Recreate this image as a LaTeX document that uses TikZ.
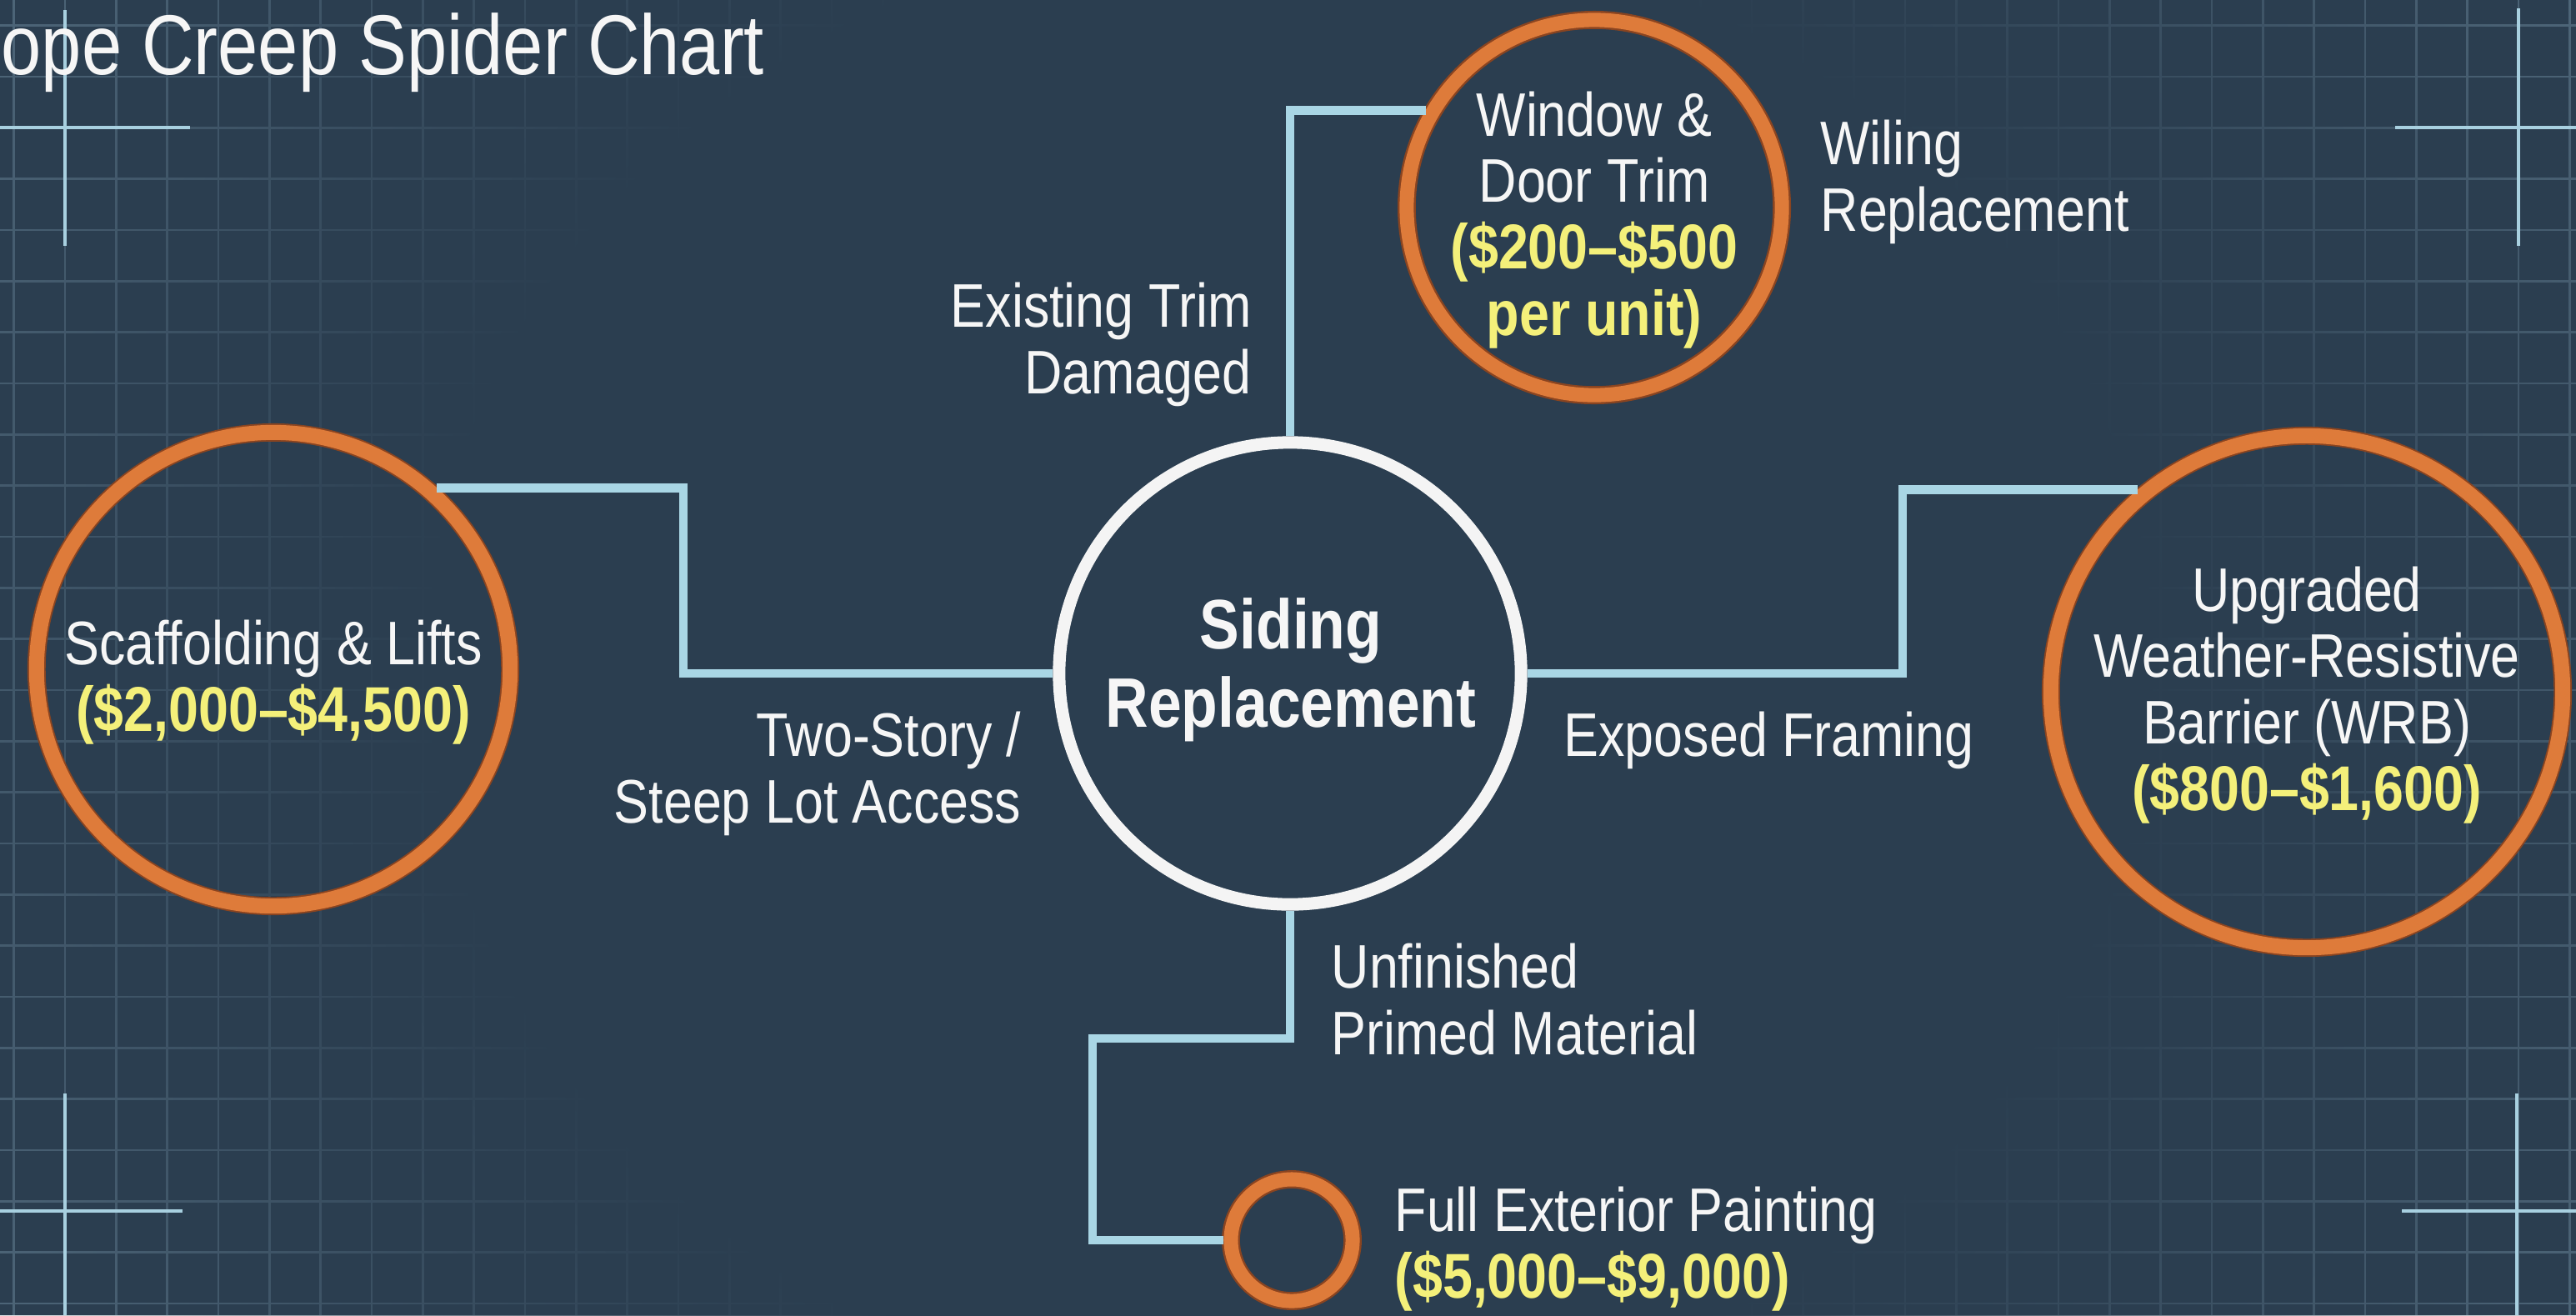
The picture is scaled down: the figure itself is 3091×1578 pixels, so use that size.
\documentclass[tikz,border=0pt]{standalone}
\usepackage{fontspec}
\setmainfont{Liberation Sans}[FakeStretch=0.85]
\usetikzlibrary{fadings}
\definecolor{bgcol}{HTML}{2B3E50}
\definecolor{gridc}{HTML}{546D80}
\definecolor{connc}{HTML}{A9D6E5}
\definecolor{crossc}{HTML}{A8D0E0}
\definecolor{orangec}{HTML}{DE7B3A}
\definecolor{orangedark}{HTML}{8A4420}
\definecolor{ringwhite}{HTML}{F4F4F4}
\definecolor{txtwhite}{HTML}{F6F6F6}
\definecolor{yel}{HTML}{F4F07A}
\pgfdeclareradialshading{gridfadeshade}{\pgfpointorigin}{color(0bp)=(pgftransparent!0); color(11bp)=(pgftransparent!0); color(21bp)=(pgftransparent!100); color(50bp)=(pgftransparent!100)}
\pgfdeclarefading{gridfade}{\pgfuseshading{gridfadeshade}}
\newcommand\price[1]{{\fontsize{21.6}{22.7}\selectfont\bfseries\color{yel}#1}}
\begin{document}
\begin{tikzpicture}[x=0.01cm,y=-0.01cm,
  gridline/.style={draw=gridc,line width=0.75pt},
  crossline/.style={draw=crossc,line width=1.15pt},
  ring/.style={circle,draw=orangec,line width=5pt,inner sep=0pt,
    preaction={draw=orangedark,line width=6.2pt}},
  hub/.style={circle,draw=ringwhite,line width=4.27pt,fill=bgcol,inner sep=0pt,minimum size=5.54cm},
  conn/.style={draw=connc,line width=3.1pt},
  lbl/.style={text=txtwhite,font=\fontsize{21}{22.7}\selectfont,inner sep=0pt},
  ctext/.style={lbl,align=center},
  hubtext/.style={text=txtwhite,font=\fontsize{23.9}{26.7}\selectfont\bfseries,align=center,inner sep=0pt},
  titletext/.style={text=txtwhite,font=\fontsize{29}{32}\selectfont,inner sep=0pt}]
\useasboundingbox (0,0) rectangle (3091,1578);
\fill[bgcol] (0,0) rectangle (3091,1578);
% grid
\foreach \i in {0,...,50} \draw[gridline] ({16.7+61.33*\i},0) -- ({16.7+61.33*\i},1578);
\foreach \j in {0,...,25} \draw[gridline] (0,{30.7+61.33*\j}) -- (3091,{30.7+61.33*\j});
\fill[bgcol,path fading=gridfade,fit fading=true] (1548,800) ellipse [x radius=2300,y radius=2000];
% corner crosshairs
\draw[crossline] (78,12) -- (78,295);
\draw[crossline] (0,153) -- (228,153);
\draw[crossline] (3022,10) -- (3022,295);
\draw[crossline] (2874,153) -- (3091,153);
\draw[crossline] (78,1312) -- (78,1578);
\draw[crossline] (0,1453) -- (219,1453);
\draw[crossline] (3020,1312) -- (3020,1578);
\draw[crossline] (2882,1453) -- (3091,1453);
% title
\node[titletext,anchor=base west] (title) at (1,89) {ope Creep Spider Chart};
% circles
\node[hub] (ctr) at (1548,808) {};
\node[hubtext] (ctrT) at (1549,804) {Siding\\Replacement};
\node[ring,minimum size=4.50cm,line width=4.84pt] (win) at (1913,249) {};
\node[ctext] (winT) at (1913,264) {Window \&\\Door Trim\\\price{(\$200–\$500}\\\price{per unit)}};
\node[ring,minimum size=5.68cm,line width=5.12pt] (scaf) at (328,803) {};
\node[ctext] (scafT) at (328,819) {Scaffolding \& Lifts\\\price{(\$2,000–\$4,500)}};
\node[ring,minimum size=6.14cm,line width=5.12pt] (wrb) at (2768,830) {};
\node[ctext] (wrbT) at (2768,834) {Upgraded\\Weather-Resistive\\Barrier (WRB)\\\price{(\$800–\$1,600)}};
\node[ring,minimum size=1.46cm,line width=4.84pt] (paint) at (1550,1488) {};
\node[lbl,align=left,anchor=west] (paintT) at (1673,1499) {Full Exterior Painting\\\price{(\$5,000–\$9,000)}};
% labels
\node[lbl,align=right,anchor=east] (lblA) at (1502,413) {Existing Trim\\Damaged};
\node[lbl,align=left,anchor=west] (lblB) at (2184,218) {Wiling\\Replacement};
\node[lbl,align=right,anchor=east] (lblC) at (1226,928) {Two-Story /\\Steep Lot Access};
\node[lbl,anchor=west] (lblD) at (1876,888) {Exposed Framing};
\node[lbl,align=left,anchor=west] (lblE) at (1597,1199) {Unfinished\\Primed Material};
% connectors
\coordinate (lbend) at (820,808);
\coordinate (rbend) at (2283,808);
\coordinate (bj1) at (1548,1246);
\coordinate (bj2) at (1311,1246);
\draw[conn] (ctr.north) |- (win.150);
\draw[conn] (ctr.west) -- (lbend) |- (scaf.48);
\draw[conn] (ctr.east) -- (rbend) |- (wrb.130);
\draw[conn] (ctr.south) -- (bj1) -- (bj2) |- (paint.west);
\end{tikzpicture}
\end{document}
